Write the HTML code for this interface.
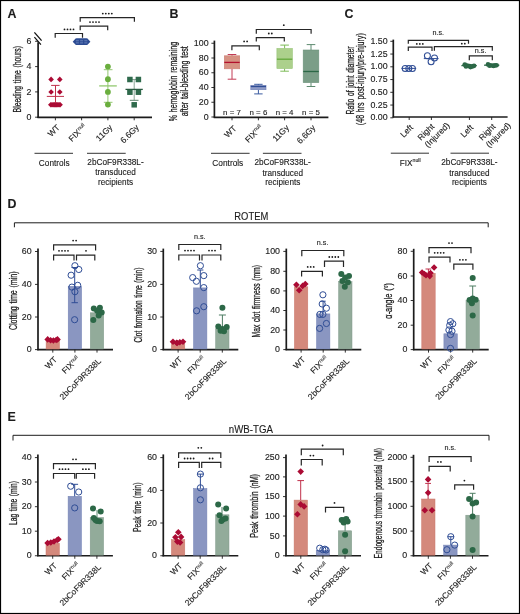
<!DOCTYPE html>
<html><head><meta charset="utf-8"><style>
html,body{margin:0;padding:0;background:#fff;}
svg{display:block;}
text{font-family:"Liberation Sans", sans-serif;fill:#1c1c1c;stroke:#1c1c1c;stroke-width:0.12px;}
svg{will-change:transform;filter:blur(0.3px);}
</style></head><body>
<svg width="520" height="614" viewBox="0 0 520 614">
<rect width="520" height="614" fill="#fff"/>
<rect x="0.50" y="0.50" width="519.00" height="613.00" fill="none" stroke="#000" stroke-width="1.2"/>
<text x="0" y="0" font-size="12.4" font-weight="bold" transform="translate(7.60 17.80)">A</text>
<line x1="38.10" y1="42.30" x2="38.10" y2="117.90" stroke="#1c1c1c" stroke-width="1.7" />
<line x1="34.40" y1="32.30" x2="41.60" y2="40.60" stroke="#111" stroke-width="1.25" />
<line x1="34.40" y1="37.10" x2="40.90" y2="44.70" stroke="#111" stroke-width="1.25" />
<line x1="35.10" y1="117.20" x2="38.10" y2="117.20" stroke="#1c1c1c" stroke-width="0.9" />
<text x="0" y="0" font-size="8.2" text-anchor="end" transform="translate(31.40 119.85) scale(1.0800 1)">0</text>
<line x1="35.10" y1="91.90" x2="38.10" y2="91.90" stroke="#1c1c1c" stroke-width="0.9" />
<text x="0" y="0" font-size="8.2" text-anchor="end" transform="translate(31.40 94.55) scale(1.0800 1)">2</text>
<line x1="35.10" y1="66.60" x2="38.10" y2="66.60" stroke="#1c1c1c" stroke-width="0.9" />
<text x="0" y="0" font-size="8.2" text-anchor="end" transform="translate(31.40 69.25) scale(1.0800 1)">4</text>
<line x1="35.10" y1="41.30" x2="38.10" y2="41.30" stroke="#1c1c1c" stroke-width="0.9" />
<text x="0" y="0" font-size="8.2" text-anchor="end" transform="translate(31.40 43.95) scale(1.0800 1)">6</text>
<text x="0" y="0" font-size="10.6" text-anchor="middle" word-spacing="1.2" style="stroke-width:0.28px" transform="translate(21.20 79.20) rotate(-90) scale(0.6447 1)">Bleeding time (hours)</text>
<line x1="37.40" y1="117.30" x2="152.00" y2="117.30" stroke="#1c1c1c" stroke-width="1.7" />
<line x1="55.40" y1="117.30" x2="55.40" y2="120.30" stroke="#1c1c1c" stroke-width="0.9" />
<line x1="81.60" y1="117.30" x2="81.60" y2="120.30" stroke="#1c1c1c" stroke-width="0.9" />
<line x1="107.90" y1="117.30" x2="107.90" y2="120.30" stroke="#1c1c1c" stroke-width="0.9" />
<line x1="134.20" y1="117.30" x2="134.20" y2="120.30" stroke="#1c1c1c" stroke-width="0.9" />
<path d="M51.10 76.60L53.90 79.40L51.10 82.20L48.30 79.40Z" fill="#ab0b34"/>
<path d="M59.80 76.60L62.60 79.40L59.80 82.20L57.00 79.40Z" fill="#ab0b34"/>
<path d="M51.10 89.20L53.90 92.00L51.10 94.80L48.30 92.00Z" fill="#ab0b34"/>
<path d="M59.80 89.20L62.60 92.00L59.80 94.80L57.00 92.00Z" fill="#ab0b34"/>
<path d="M50.80 102.00L53.60 104.80L50.80 107.60L48.00 104.80Z" fill="#ab0b34"/>
<path d="M52.00 102.00L54.80 104.80L52.00 107.60L49.20 104.80Z" fill="#ab0b34"/>
<path d="M53.20 102.00L56.00 104.80L53.20 107.60L50.40 104.80Z" fill="#ab0b34"/>
<path d="M54.40 102.00L57.20 104.80L54.40 107.60L51.60 104.80Z" fill="#ab0b34"/>
<path d="M55.50 102.00L58.30 104.80L55.50 107.60L52.70 104.80Z" fill="#ab0b34"/>
<path d="M56.60 102.00L59.40 104.80L56.60 107.60L53.80 104.80Z" fill="#ab0b34"/>
<path d="M57.80 102.00L60.60 104.80L57.80 107.60L55.00 104.80Z" fill="#ab0b34"/>
<path d="M59.00 102.00L61.80 104.80L59.00 107.60L56.20 104.80Z" fill="#ab0b34"/>
<path d="M60.10 102.00L62.90 104.80L60.10 107.60L57.30 104.80Z" fill="#ab0b34"/>
<line x1="46.80" y1="96.40" x2="64.00" y2="96.40" stroke="#c0304a" stroke-width="1.0" />
<line x1="51.10" y1="85.40" x2="59.60" y2="85.40" stroke="#c0304a" stroke-width="1.0" />
<line x1="55.50" y1="85.40" x2="55.50" y2="103.00" stroke="#c0304a" stroke-width="1.0" />
<path d="M72.7 41.7L75.6 38.6Q76 38.3 76.6 38.3H86.5Q87.1 38.3 87.5 38.6L90.4 41.7L87.5 44.8Q87.1 45.1 86.5 45.1H76.6Q76 45.1 75.6 44.8Z" fill="#2c4b92"/>
<rect x="75.90" y="39.90" width="3.00" height="3.60" fill="#5470ae" />
<rect x="80.10" y="39.90" width="3.00" height="3.60" fill="#5470ae" />
<rect x="84.30" y="39.90" width="3.00" height="3.60" fill="#5470ae" />
<line x1="74.50" y1="41.70" x2="88.60" y2="41.70" stroke="#2c4b92" stroke-width="0.8" />
<line x1="99.20" y1="85.90" x2="116.80" y2="85.90" stroke="#93c870" stroke-width="1.3" />
<line x1="103.80" y1="69.70" x2="112.50" y2="69.70" stroke="#93c870" stroke-width="1.0" />
<line x1="103.80" y1="102.30" x2="112.50" y2="102.30" stroke="#93c870" stroke-width="1.0" />
<line x1="107.90" y1="69.70" x2="107.90" y2="102.30" stroke="#93c870" stroke-width="1.0" />
<circle cx="107.90" cy="66.60" r="2.90" fill="#6aae3e"/>
<circle cx="107.90" cy="79.25" r="2.90" fill="#6aae3e"/>
<circle cx="107.90" cy="91.90" r="2.90" fill="#6aae3e"/>
<circle cx="107.90" cy="104.55" r="2.90" fill="#6aae3e"/>
<line x1="134.20" y1="79.50" x2="134.20" y2="100.30" stroke="#8aa596" stroke-width="1.0" />
<line x1="129.80" y1="79.50" x2="138.50" y2="79.50" stroke="#8aa596" stroke-width="1.0" />
<line x1="129.80" y1="100.30" x2="138.50" y2="100.30" stroke="#5a806a" stroke-width="1.0" />
<rect x="127.15" y="76.75" width="5.50" height="5.50" fill="#2f6a4c" />
<rect x="135.65" y="76.75" width="5.50" height="5.50" fill="#2f6a4c" />
<rect x="127.15" y="89.45" width="5.50" height="5.50" fill="#2f6a4c" />
<rect x="135.65" y="89.45" width="5.50" height="5.50" fill="#2f6a4c" />
<rect x="131.45" y="102.05" width="5.50" height="5.50" fill="#2f6a4c" />
<line x1="125.50" y1="89.40" x2="142.80" y2="89.40" stroke="#2a5a40" stroke-width="1.3" />
<path d="M55.20 37.70V33.50H82.50V37.70" stroke="#262626" stroke-width="1.2" fill="none" />
<circle cx="64.50" cy="29.40" r="0.90" fill="#1a1a1a"/>
<circle cx="67.50" cy="29.40" r="0.90" fill="#1a1a1a"/>
<circle cx="70.50" cy="29.40" r="0.90" fill="#1a1a1a"/>
<circle cx="73.50" cy="29.40" r="0.90" fill="#1a1a1a"/>
<path d="M80.20 30.20V26.10H107.70V30.20" stroke="#262626" stroke-width="1.2" fill="none" />
<circle cx="90.00" cy="22.10" r="0.90" fill="#1a1a1a"/>
<circle cx="93.00" cy="22.10" r="0.90" fill="#1a1a1a"/>
<circle cx="96.00" cy="22.10" r="0.90" fill="#1a1a1a"/>
<circle cx="99.00" cy="22.10" r="0.90" fill="#1a1a1a"/>
<path d="M80.20 21.70V17.70H134.40V21.70" stroke="#262626" stroke-width="1.2" fill="none" />
<circle cx="102.80" cy="13.60" r="0.90" fill="#1a1a1a"/>
<circle cx="105.80" cy="13.60" r="0.90" fill="#1a1a1a"/>
<circle cx="108.80" cy="13.60" r="0.90" fill="#1a1a1a"/>
<circle cx="111.80" cy="13.60" r="0.90" fill="#1a1a1a"/>
<text x="0" y="0" font-size="8.4" text-anchor="end" transform="translate(60.40 128.00) rotate(-45)">WT</text>
<text x="87.00" y="127.20" font-size="8.4" text-anchor="end" transform="rotate(-45 87.00 127.20)">FIX<tspan font-size="5.21" dy="-3">null</tspan></text>
<text x="0" y="0" font-size="8.4" text-anchor="end" transform="translate(113.00 128.00) rotate(-45)">11Gy</text>
<text x="0" y="0" font-size="8.4" text-anchor="end" transform="translate(139.50 128.00) rotate(-45)">6.6Gy</text>
<line x1="34.50" y1="153.30" x2="73.00" y2="153.30" stroke="#1c1c1c" stroke-width="0.9" />
<text x="0" y="0" font-size="8.2" text-anchor="middle" transform="translate(54.20 165.50) scale(1.0087 1)">Controls</text>
<line x1="87.00" y1="153.30" x2="125.70" y2="153.30" stroke="#1c1c1c" stroke-width="0.9" />
<text x="0" y="0" font-size="8.2" text-anchor="middle" transform="translate(115.50 165.20) scale(1.0077 1)">2bCoF9R338L-</text>
<text x="0" y="0" font-size="8.2" text-anchor="middle" transform="translate(115.50 175.20)">transduced</text>
<text x="0" y="0" font-size="8.2" text-anchor="middle" transform="translate(115.50 185.20)">recipients</text>
<text x="0" y="0" font-size="12.4" font-weight="bold" transform="translate(169.60 17.80)">B</text>
<line x1="214.40" y1="40.60" x2="214.40" y2="117.70" stroke="#1c1c1c" stroke-width="1.7" />
<line x1="211.40" y1="117.00" x2="214.40" y2="117.00" stroke="#1c1c1c" stroke-width="0.9" />
<text x="0" y="0" font-size="8.2" text-anchor="end" transform="translate(208.60 119.65) scale(1.0800 1)">0</text>
<line x1="211.40" y1="102.25" x2="214.40" y2="102.25" stroke="#1c1c1c" stroke-width="0.9" />
<text x="0" y="0" font-size="8.2" text-anchor="end" transform="translate(208.60 104.90) scale(1.0800 1)">20</text>
<line x1="211.40" y1="87.50" x2="214.40" y2="87.50" stroke="#1c1c1c" stroke-width="0.9" />
<text x="0" y="0" font-size="8.2" text-anchor="end" transform="translate(208.60 90.15) scale(1.0800 1)">40</text>
<line x1="211.40" y1="72.75" x2="214.40" y2="72.75" stroke="#1c1c1c" stroke-width="0.9" />
<text x="0" y="0" font-size="8.2" text-anchor="end" transform="translate(208.60 75.40) scale(1.0800 1)">60</text>
<line x1="211.40" y1="58.00" x2="214.40" y2="58.00" stroke="#1c1c1c" stroke-width="0.9" />
<text x="0" y="0" font-size="8.2" text-anchor="end" transform="translate(208.60 60.65) scale(1.0800 1)">80</text>
<line x1="211.40" y1="43.25" x2="214.40" y2="43.25" stroke="#1c1c1c" stroke-width="0.9" />
<text x="0" y="0" font-size="8.2" text-anchor="end" transform="translate(208.60 45.90) scale(1.0800 1)">100</text>
<text x="0" y="0" font-size="10.6" text-anchor="middle" word-spacing="1.2" style="stroke-width:0.28px" transform="translate(177.40 81.50) rotate(-90) scale(0.6677 1)">% hemoglobin remaining</text>
<text x="0" y="0" font-size="10.6" text-anchor="middle" word-spacing="1.2" style="stroke-width:0.28px" transform="translate(187.60 81.20) rotate(-90) scale(0.6747 1)">after tail-bleeding test</text>
<line x1="213.70" y1="117.30" x2="328.40" y2="117.30" stroke="#1c1c1c" stroke-width="1.7" />
<line x1="232.00" y1="117.30" x2="232.00" y2="120.30" stroke="#1c1c1c" stroke-width="0.9" />
<line x1="258.40" y1="117.30" x2="258.40" y2="120.30" stroke="#1c1c1c" stroke-width="0.9" />
<line x1="284.60" y1="117.30" x2="284.60" y2="120.30" stroke="#1c1c1c" stroke-width="0.9" />
<line x1="311.00" y1="117.30" x2="311.00" y2="120.30" stroke="#1c1c1c" stroke-width="0.9" />
<line x1="232.00" y1="54.50" x2="232.00" y2="55.80" stroke="#c23a55" stroke-width="1.0" />
<line x1="232.00" y1="68.80" x2="232.00" y2="79.20" stroke="#c23a55" stroke-width="1.0" />
<line x1="227.70" y1="54.50" x2="236.30" y2="54.50" stroke="#c23a55" stroke-width="1.0" />
<line x1="227.70" y1="79.20" x2="236.30" y2="79.20" stroke="#c23a55" stroke-width="1.0" />
<rect x="224.30" y="55.80" width="15.40" height="13.00" fill="#d69283" stroke="#cc7f72" stroke-width="0.6"/>
<line x1="224.30" y1="62.40" x2="239.70" y2="62.40" stroke="#b3102e" stroke-width="1.3" />
<line x1="258.40" y1="84.30" x2="258.40" y2="85.40" stroke="#3a5ba0" stroke-width="1.0" />
<line x1="258.40" y1="89.70" x2="258.40" y2="93.90" stroke="#3a5ba0" stroke-width="1.0" />
<line x1="254.20" y1="84.30" x2="262.60" y2="84.30" stroke="#3a5ba0" stroke-width="1.0" />
<line x1="254.20" y1="93.90" x2="262.60" y2="93.90" stroke="#3a5ba0" stroke-width="1.0" />
<rect x="250.80" y="85.40" width="15.20" height="4.30" fill="#8f9bc6" stroke="#6d7db5" stroke-width="0.6"/>
<line x1="250.80" y1="86.50" x2="266.00" y2="86.50" stroke="#2f4d95" stroke-width="1.3" />
<line x1="284.60" y1="45.10" x2="284.60" y2="48.50" stroke="#7dbb58" stroke-width="1.0" />
<line x1="284.60" y1="68.50" x2="284.60" y2="71.20" stroke="#7dbb58" stroke-width="1.0" />
<line x1="280.30" y1="45.10" x2="288.90" y2="45.10" stroke="#7dbb58" stroke-width="1.0" />
<line x1="280.30" y1="71.20" x2="288.90" y2="71.20" stroke="#7dbb58" stroke-width="1.0" />
<rect x="276.90" y="48.50" width="15.40" height="20.00" fill="#acd08c" stroke="#95c474" stroke-width="0.6"/>
<line x1="276.90" y1="59.20" x2="292.30" y2="59.20" stroke="#64a83c" stroke-width="1.3" />
<line x1="311.00" y1="44.60" x2="311.00" y2="50.00" stroke="#5d8a70" stroke-width="1.0" />
<line x1="311.00" y1="82.60" x2="311.00" y2="86.50" stroke="#5d8a70" stroke-width="1.0" />
<line x1="306.70" y1="44.60" x2="315.30" y2="44.60" stroke="#5d8a70" stroke-width="1.0" />
<line x1="306.70" y1="86.50" x2="315.30" y2="86.50" stroke="#5d8a70" stroke-width="1.0" />
<rect x="303.20" y="50.00" width="15.60" height="32.60" fill="#7b9e88" stroke="#6a917a" stroke-width="0.6"/>
<line x1="303.20" y1="71.50" x2="318.80" y2="71.50" stroke="#2c6847" stroke-width="1.3" />
<text x="0" y="0" font-size="7.9" text-anchor="middle" transform="translate(232.00 114.90)">n = 7</text>
<text x="0" y="0" font-size="7.9" text-anchor="middle" transform="translate(258.40 114.90)">n = 6</text>
<text x="0" y="0" font-size="7.9" text-anchor="middle" transform="translate(284.60 114.90)">n = 4</text>
<text x="0" y="0" font-size="7.9" text-anchor="middle" transform="translate(311.00 114.90)">n = 5</text>
<path d="M231.90 50.30V45.90H259.30V50.30" stroke="#262626" stroke-width="1.2" fill="none" />
<circle cx="244.10" cy="41.40" r="0.90" fill="#1a1a1a"/>
<circle cx="247.10" cy="41.40" r="0.90" fill="#1a1a1a"/>
<path d="M256.30 41.50V37.70H284.30V41.50" stroke="#262626" stroke-width="1.2" fill="none" />
<circle cx="268.80" cy="33.50" r="0.90" fill="#1a1a1a"/>
<circle cx="271.80" cy="33.50" r="0.90" fill="#1a1a1a"/>
<path d="M256.30 33.70V29.50H311.10V33.70" stroke="#262626" stroke-width="1.2" fill="none" />
<circle cx="283.80" cy="25.20" r="0.90" fill="#1a1a1a"/>
<text x="0" y="0" font-size="8.4" text-anchor="end" transform="translate(237.00 129.00) rotate(-45)">WT</text>
<text x="263.40" y="128.20" font-size="8.4" text-anchor="end" transform="rotate(-45 263.40 128.20)">FIX<tspan font-size="5.21" dy="-3">null</tspan></text>
<text x="0" y="0" font-size="8.4" text-anchor="end" transform="translate(289.60 128.40) rotate(-45)">11Gy</text>
<text x="0" y="0" font-size="8.4" text-anchor="end" transform="translate(316.00 128.40) rotate(-45)">6.6Gy</text>
<line x1="211.00" y1="153.30" x2="249.60" y2="153.30" stroke="#1c1c1c" stroke-width="0.9" />
<text x="0" y="0" font-size="8.2" text-anchor="middle" transform="translate(227.80 165.60) scale(1.0152 1)">Controls</text>
<line x1="262.90" y1="153.30" x2="301.50" y2="153.30" stroke="#1c1c1c" stroke-width="0.9" />
<text x="0" y="0" font-size="8.2" text-anchor="middle" transform="translate(282.60 165.40) scale(1.0077 1)">2bCoF9R338L-</text>
<text x="0" y="0" font-size="8.2" text-anchor="middle" transform="translate(282.80 175.60)">transduced</text>
<text x="0" y="0" font-size="8.2" text-anchor="middle" transform="translate(282.80 185.40)">recipients</text>
<text x="0" y="0" font-size="12.4" font-weight="bold" transform="translate(344.60 17.80)">C</text>
<line x1="393.30" y1="39.60" x2="393.30" y2="117.50" stroke="#1c1c1c" stroke-width="1.7" />
<line x1="390.30" y1="117.80" x2="393.30" y2="117.80" stroke="#1c1c1c" stroke-width="0.9" />
<text x="0" y="0" font-size="8.2" text-anchor="end" transform="translate(387.60 120.45) scale(1.0800 1)">0.00</text>
<line x1="390.30" y1="105.05" x2="393.30" y2="105.05" stroke="#1c1c1c" stroke-width="0.9" />
<text x="0" y="0" font-size="8.2" text-anchor="end" transform="translate(387.60 107.70) scale(1.0800 1)">0.25</text>
<line x1="390.30" y1="92.30" x2="393.30" y2="92.30" stroke="#1c1c1c" stroke-width="0.9" />
<text x="0" y="0" font-size="8.2" text-anchor="end" transform="translate(387.60 94.95) scale(1.0800 1)">0.50</text>
<line x1="390.30" y1="79.55" x2="393.30" y2="79.55" stroke="#1c1c1c" stroke-width="0.9" />
<text x="0" y="0" font-size="8.2" text-anchor="end" transform="translate(387.60 82.20) scale(1.0800 1)">0.75</text>
<line x1="390.30" y1="66.80" x2="393.30" y2="66.80" stroke="#1c1c1c" stroke-width="0.9" />
<text x="0" y="0" font-size="8.2" text-anchor="end" transform="translate(387.60 69.45) scale(1.0800 1)">1.00</text>
<line x1="390.30" y1="54.05" x2="393.30" y2="54.05" stroke="#1c1c1c" stroke-width="0.9" />
<text x="0" y="0" font-size="8.2" text-anchor="end" transform="translate(387.60 56.70) scale(1.0800 1)">1.25</text>
<line x1="390.30" y1="41.30" x2="393.30" y2="41.30" stroke="#1c1c1c" stroke-width="0.9" />
<text x="0" y="0" font-size="8.2" text-anchor="end" transform="translate(387.60 43.95) scale(1.0800 1)">1.50</text>
<text x="0" y="0" font-size="10.6" text-anchor="middle" word-spacing="1.2" style="stroke-width:0.28px" transform="translate(354.00 80.50) rotate(-90) scale(0.6372 1)">Ratio of joint diameter</text>
<text x="0" y="0" font-size="10.6" text-anchor="middle" word-spacing="1.2" style="stroke-width:0.28px" transform="translate(364.40 79.20) rotate(-90) scale(0.6672 1)">(48 hrs post-injury/pre-injury)</text>
<line x1="392.60" y1="117.00" x2="507.60" y2="117.00" stroke="#1c1c1c" stroke-width="1.7" />
<line x1="409.20" y1="117.00" x2="409.20" y2="120.00" stroke="#1c1c1c" stroke-width="0.9" />
<line x1="431.40" y1="117.00" x2="431.40" y2="120.00" stroke="#1c1c1c" stroke-width="0.9" />
<line x1="469.40" y1="117.00" x2="469.40" y2="120.00" stroke="#1c1c1c" stroke-width="0.9" />
<line x1="491.70" y1="117.00" x2="491.70" y2="120.00" stroke="#1c1c1c" stroke-width="0.9" />
<circle cx="405.20" cy="68.40" r="3.00" fill="none" stroke="#2f4d95" stroke-width="1.05"/>
<circle cx="408.80" cy="68.40" r="3.00" fill="none" stroke="#2f4d95" stroke-width="1.05"/>
<circle cx="412.40" cy="68.40" r="3.00" fill="none" stroke="#2f4d95" stroke-width="1.05"/>
<line x1="401.40" y1="68.40" x2="416.20" y2="68.40" stroke="#2f4d95" stroke-width="1.0" />
<circle cx="427.40" cy="55.70" r="3.00" fill="none" stroke="#2f4d95" stroke-width="1.05"/>
<circle cx="434.50" cy="57.90" r="3.00" fill="none" stroke="#2f4d95" stroke-width="1.05"/>
<circle cx="431.10" cy="61.70" r="3.00" fill="none" stroke="#2f4d95" stroke-width="1.05"/>
<line x1="423.80" y1="58.60" x2="438.60" y2="58.60" stroke="#2f4d95" stroke-width="1.0" />
<circle cx="464.80" cy="64.60" r="2.40" fill="#2c6847"/>
<circle cx="467.20" cy="65.60" r="2.40" fill="#2c6847"/>
<circle cx="469.60" cy="66.20" r="2.40" fill="#2c6847"/>
<circle cx="472.20" cy="66.40" r="2.40" fill="#2c6847"/>
<circle cx="474.00" cy="65.80" r="2.40" fill="#2c6847"/>
<circle cx="466.00" cy="66.40" r="2.40" fill="#2c6847"/>
<circle cx="470.50" cy="67.00" r="2.40" fill="#2c6847"/>
<circle cx="488.00" cy="64.40" r="2.30" fill="#2c6847"/>
<circle cx="490.40" cy="65.20" r="2.30" fill="#2c6847"/>
<circle cx="492.80" cy="65.60" r="2.30" fill="#2c6847"/>
<circle cx="495.00" cy="65.40" r="2.30" fill="#2c6847"/>
<circle cx="496.60" cy="65.20" r="2.30" fill="#2c6847"/>
<circle cx="489.50" cy="65.80" r="2.30" fill="#2c6847"/>
<circle cx="493.50" cy="66.00" r="2.30" fill="#2c6847"/>
<line x1="461.40" y1="65.60" x2="476.80" y2="65.60" stroke="#2c6847" stroke-width="1.3" />
<line x1="484.10" y1="65.20" x2="499.30" y2="65.20" stroke="#2c6847" stroke-width="1.3" />
<path d="M408.30 51.00V47.10H432.00V51.00" stroke="#262626" stroke-width="1.2" fill="none" />
<circle cx="416.80" cy="43.90" r="0.90" fill="#1a1a1a"/>
<circle cx="419.80" cy="43.90" r="0.90" fill="#1a1a1a"/>
<circle cx="422.80" cy="43.90" r="0.90" fill="#1a1a1a"/>
<path d="M408.30 43.70V40.30H468.50V43.70" stroke="#262626" stroke-width="1.2" fill="none" />
<text x="0" y="0" font-size="7.2" text-anchor="middle" transform="translate(438.30 34.60)">n.s.</text>
<path d="M434.40 50.70V46.70H492.30V50.70" stroke="#262626" stroke-width="1.2" fill="none" />
<circle cx="461.80" cy="43.70" r="0.90" fill="#1a1a1a"/>
<circle cx="464.80" cy="43.70" r="0.90" fill="#1a1a1a"/>
<path d="M469.30 60.20V55.90H492.30V60.20" stroke="#262626" stroke-width="1.2" fill="none" />
<text x="0" y="0" font-size="7.2" text-anchor="middle" transform="translate(480.60 53.30)">n.s.</text>
<text x="0" y="0" font-size="8.4" text-anchor="end" transform="translate(413.60 128.00) rotate(-45)">Left</text>
<text font-size="8.4" transform="translate(421.00 140.90) rotate(-45)"><tspan x="0" y="0">Right</tspan><tspan x="0" y="10.0">(Injured)</tspan></text>
<text x="0" y="0" font-size="8.4" text-anchor="end" transform="translate(473.80 128.00) rotate(-45)">Left</text>
<text font-size="8.4" transform="translate(482.20 140.90) rotate(-45)"><tspan x="0" y="0">Right</tspan><tspan x="0" y="10.0">(Injured)</tspan></text>
<line x1="390.80" y1="153.20" x2="429.00" y2="153.20" stroke="#1c1c1c" stroke-width="0.9" />
<text x="410.2" y="165.6" font-size="8.2" text-anchor="middle">FIX<tspan font-size="5.2" dy="-3.2">null</tspan></text>
<line x1="450.50" y1="153.20" x2="489.00" y2="153.20" stroke="#1c1c1c" stroke-width="0.9" />
<text x="0" y="0" font-size="8.2" text-anchor="middle" transform="translate(469.40 165.40) scale(1.0077 1)">2bCoF9R338L-</text>
<text x="0" y="0" font-size="8.2" text-anchor="middle" transform="translate(469.40 175.60)">transduced</text>
<text x="0" y="0" font-size="8.2" text-anchor="middle" transform="translate(469.40 185.40)">recipients</text>
<text x="0" y="0" font-size="12.4" font-weight="bold" transform="translate(7.60 208.20)">D</text>
<path d="M14.4 227.3V222.8H488.2V227.3" stroke="#1c1c1c" stroke-width="1.0" fill="none" />
<text x="0" y="0" font-size="10.0" text-anchor="middle" transform="translate(251.30 219.50) scale(0.9416 1)">ROTEM</text>
<text x="0" y="0" font-size="12.4" font-weight="bold" transform="translate(7.60 420.80)">E</text>
<path d="M13.0 440.5V435.3H489.0V440.5" stroke="#1c1c1c" stroke-width="1.0" fill="none" />
<text x="0" y="0" font-size="10.0" text-anchor="middle" transform="translate(250.90 432.50) scale(0.9702 1)">nWB-TGA</text>
<line x1="38.00" y1="248.60" x2="38.00" y2="350.20" stroke="#1c1c1c" stroke-width="1.7" />
<line x1="35.00" y1="349.60" x2="38.00" y2="349.60" stroke="#1c1c1c" stroke-width="0.9" />
<text x="0" y="0" font-size="8.2" text-anchor="end" transform="translate(31.70 352.25) scale(1.0800 1)">0</text>
<line x1="35.00" y1="317.00" x2="38.00" y2="317.00" stroke="#1c1c1c" stroke-width="0.9" />
<text x="0" y="0" font-size="8.2" text-anchor="end" transform="translate(31.70 319.65) scale(1.0800 1)">20</text>
<line x1="35.00" y1="284.40" x2="38.00" y2="284.40" stroke="#1c1c1c" stroke-width="0.9" />
<text x="0" y="0" font-size="8.2" text-anchor="end" transform="translate(31.70 287.05) scale(1.0800 1)">40</text>
<line x1="35.00" y1="251.50" x2="38.00" y2="251.50" stroke="#1c1c1c" stroke-width="0.9" />
<text x="0" y="0" font-size="8.2" text-anchor="end" transform="translate(31.70 254.15) scale(1.0800 1)">60</text>
<text x="0" y="0" font-size="10.6" text-anchor="middle" word-spacing="1.2" style="stroke-width:0.28px" transform="translate(16.50 300.80) rotate(-90) scale(0.6629 1)">Clotting time (min)</text>
<line x1="37.20" y1="349.60" x2="113.00" y2="349.60" stroke="#1c1c1c" stroke-width="1.7" />
<rect x="46.10" y="339.90" width="13.40" height="9.10" fill="#d4897c" stroke="#c97668" stroke-width="0.5"/>
<line x1="52.80" y1="349.60" x2="52.80" y2="352.60" stroke="#1c1c1c" stroke-width="0.9" />
<rect x="68.20" y="286.30" width="13.40" height="62.70" fill="#8a96c1" stroke="#7382b5" stroke-width="0.5"/>
<line x1="74.90" y1="349.60" x2="74.90" y2="352.60" stroke="#1c1c1c" stroke-width="0.9" />
<rect x="90.30" y="312.80" width="13.40" height="36.20" fill="#92ab9a" stroke="#80998a" stroke-width="0.5"/>
<line x1="97.00" y1="349.60" x2="97.00" y2="352.60" stroke="#1c1c1c" stroke-width="0.9" />
<text x="0" y="0" font-size="8.4" text-anchor="end" transform="translate(57.60 360.20) rotate(-45)">WT</text>
<text x="80.30" y="359.40" font-size="8.4" text-anchor="end" transform="rotate(-45 80.30 359.40)">FIX<tspan font-size="5.21" dy="-3">null</tspan></text>
<text x="0" y="0" font-size="8.4" text-anchor="end" transform="translate(101.60 361.60) rotate(-45)">2bCoF9R338L</text>
<path d="M47.70 336.10L51.00 339.40L47.70 342.70L44.40 339.40Z" fill="#ab0b34"/>
<path d="M50.60 336.90L53.90 340.20L50.60 343.50L47.30 340.20Z" fill="#ab0b34"/>
<path d="M53.40 337.20L56.70 340.50L53.40 343.80L50.10 340.50Z" fill="#ab0b34"/>
<path d="M56.20 336.70L59.50 340.00L56.20 343.30L52.90 340.00Z" fill="#ab0b34"/>
<path d="M57.50 336.10L60.80 339.40L57.50 342.70L54.20 339.40Z" fill="#ab0b34"/>
<line x1="74.70" y1="267.50" x2="74.70" y2="302.70" stroke="#2f4d95" stroke-width="1.0" />
<line x1="71.50" y1="267.50" x2="77.90" y2="267.50" stroke="#2f4d95" stroke-width="1.0" />
<line x1="71.50" y1="302.70" x2="77.90" y2="302.70" stroke="#2f4d95" stroke-width="1.0" />
<circle cx="74.90" cy="265.70" r="3.10" fill="none" stroke="#2f4d95" stroke-width="1.0"/>
<circle cx="78.80" cy="269.50" r="3.10" fill="none" stroke="#2f4d95" stroke-width="1.0"/>
<circle cx="71.10" cy="275.20" r="3.10" fill="none" stroke="#2f4d95" stroke-width="1.0"/>
<circle cx="77.70" cy="285.30" r="3.10" fill="none" stroke="#2f4d95" stroke-width="1.0"/>
<circle cx="71.90" cy="287.10" r="3.10" fill="none" stroke="#2f4d95" stroke-width="1.0"/>
<circle cx="74.90" cy="291.70" r="3.10" fill="none" stroke="#2f4d95" stroke-width="1.0"/>
<circle cx="74.60" cy="319.70" r="3.10" fill="none" stroke="#2f4d95" stroke-width="1.0"/>
<line x1="97.00" y1="309.00" x2="97.00" y2="313.00" stroke="#5d8a70" stroke-width="1.0" />
<circle cx="93.80" cy="308.50" r="3.00" fill="#2c6847"/>
<circle cx="99.90" cy="307.80" r="3.00" fill="#2c6847"/>
<circle cx="101.70" cy="312.40" r="3.00" fill="#2c6847"/>
<circle cx="97.10" cy="310.80" r="3.00" fill="#2c6847"/>
<circle cx="98.70" cy="315.40" r="3.00" fill="#2c6847"/>
<circle cx="93.30" cy="320.00" r="3.00" fill="#2c6847"/>
<path d="M53.60 250.40V244.80H95.60V250.40" stroke="#262626" stroke-width="1.2" fill="none" />
<circle cx="73.10" cy="240.60" r="0.90" fill="#1a1a1a"/>
<circle cx="76.10" cy="240.60" r="0.90" fill="#1a1a1a"/>
<path d="M53.60 260.40V255.10H74.00V260.40" stroke="#262626" stroke-width="1.2" fill="none" />
<circle cx="59.00" cy="250.80" r="0.90" fill="#1a1a1a"/>
<circle cx="62.00" cy="250.80" r="0.90" fill="#1a1a1a"/>
<circle cx="65.00" cy="250.80" r="0.90" fill="#1a1a1a"/>
<circle cx="68.00" cy="250.80" r="0.90" fill="#1a1a1a"/>
<path d="M76.50 260.40V255.10H94.80V260.40" stroke="#262626" stroke-width="1.2" fill="none" />
<circle cx="86.00" cy="250.80" r="0.90" fill="#1a1a1a"/>
<line x1="163.30" y1="248.60" x2="163.30" y2="350.20" stroke="#1c1c1c" stroke-width="1.7" />
<line x1="160.30" y1="349.60" x2="163.30" y2="349.60" stroke="#1c1c1c" stroke-width="0.9" />
<text x="0" y="0" font-size="8.2" text-anchor="end" transform="translate(157.00 352.25) scale(1.0800 1)">0</text>
<line x1="160.30" y1="317.00" x2="163.30" y2="317.00" stroke="#1c1c1c" stroke-width="0.9" />
<text x="0" y="0" font-size="8.2" text-anchor="end" transform="translate(157.00 319.65) scale(1.0800 1)">10</text>
<line x1="160.30" y1="284.40" x2="163.30" y2="284.40" stroke="#1c1c1c" stroke-width="0.9" />
<text x="0" y="0" font-size="8.2" text-anchor="end" transform="translate(157.00 287.05) scale(1.0800 1)">20</text>
<line x1="160.30" y1="251.40" x2="163.30" y2="251.40" stroke="#1c1c1c" stroke-width="0.9" />
<text x="0" y="0" font-size="8.2" text-anchor="end" transform="translate(157.00 254.05) scale(1.0800 1)">30</text>
<text x="0" y="0" font-size="10.6" text-anchor="middle" word-spacing="1.2" style="stroke-width:0.28px" transform="translate(141.80 305.00) rotate(-90) scale(0.6269 1)">Clot formation time (min)</text>
<line x1="162.50" y1="349.60" x2="238.30" y2="349.60" stroke="#1c1c1c" stroke-width="1.7" />
<rect x="171.40" y="341.90" width="13.40" height="7.10" fill="#d4897c" stroke="#c97668" stroke-width="0.5"/>
<line x1="178.10" y1="349.60" x2="178.10" y2="352.60" stroke="#1c1c1c" stroke-width="0.9" />
<rect x="193.50" y="287.90" width="13.40" height="61.10" fill="#8a96c1" stroke="#7382b5" stroke-width="0.5"/>
<line x1="200.20" y1="349.60" x2="200.20" y2="352.60" stroke="#1c1c1c" stroke-width="0.9" />
<rect x="215.60" y="328.80" width="13.40" height="20.20" fill="#92ab9a" stroke="#80998a" stroke-width="0.5"/>
<line x1="222.30" y1="349.60" x2="222.30" y2="352.60" stroke="#1c1c1c" stroke-width="0.9" />
<text x="0" y="0" font-size="8.4" text-anchor="end" transform="translate(182.90 360.20) rotate(-45)">WT</text>
<text x="205.60" y="359.40" font-size="8.4" text-anchor="end" transform="rotate(-45 205.60 359.40)">FIX<tspan font-size="5.21" dy="-3">null</tspan></text>
<text x="0" y="0" font-size="8.4" text-anchor="end" transform="translate(226.90 361.60) rotate(-45)">2bCoF9R338L</text>
<path d="M173.00 338.50L176.30 341.80L173.00 345.10L169.70 341.80Z" fill="#ab0b34"/>
<path d="M176.60 339.40L179.90 342.70L176.60 346.00L173.30 342.70Z" fill="#ab0b34"/>
<path d="M179.80 338.90L183.10 342.20L179.80 345.50L176.50 342.20Z" fill="#ab0b34"/>
<path d="M183.00 338.50L186.30 341.80L183.00 345.10L179.70 341.80Z" fill="#ab0b34"/>
<path d="M177.20 339.70L180.50 343.00L177.20 346.30L173.90 343.00Z" fill="#ab0b34"/>
<line x1="200.30" y1="270.00" x2="200.30" y2="287.90" stroke="#2f4d95" stroke-width="1.0" />
<line x1="197.20" y1="270.00" x2="203.40" y2="270.00" stroke="#2f4d95" stroke-width="1.0" />
<circle cx="200.40" cy="265.70" r="3.10" fill="none" stroke="#2f4d95" stroke-width="1.0"/>
<circle cx="203.80" cy="275.60" r="3.10" fill="none" stroke="#2f4d95" stroke-width="1.0"/>
<circle cx="192.70" cy="277.60" r="3.10" fill="none" stroke="#2f4d95" stroke-width="1.0"/>
<circle cx="196.40" cy="281.30" r="3.10" fill="none" stroke="#2f4d95" stroke-width="1.0"/>
<circle cx="203.80" cy="287.60" r="3.10" fill="none" stroke="#2f4d95" stroke-width="1.0"/>
<circle cx="203.80" cy="306.70" r="3.10" fill="none" stroke="#2f4d95" stroke-width="1.0"/>
<circle cx="196.60" cy="310.80" r="3.10" fill="none" stroke="#2f4d95" stroke-width="1.0"/>
<line x1="222.40" y1="315.00" x2="222.40" y2="328.80" stroke="#4d7c62" stroke-width="1.0" />
<line x1="218.90" y1="315.00" x2="225.90" y2="315.00" stroke="#4d7c62" stroke-width="1.0" />
<circle cx="222.40" cy="307.80" r="3.00" fill="#2c6847"/>
<circle cx="218.30" cy="326.60" r="3.00" fill="#2c6847"/>
<circle cx="226.70" cy="326.90" r="3.00" fill="#2c6847"/>
<circle cx="220.60" cy="330.70" r="3.00" fill="#2c6847"/>
<circle cx="224.00" cy="331.20" r="3.00" fill="#2c6847"/>
<circle cx="222.40" cy="329.00" r="3.00" fill="#2c6847"/>
<path d="M178.80 250.00V244.50H220.80V250.00" stroke="#262626" stroke-width="1.2" fill="none" />
<text x="0" y="0" font-size="7.2" text-anchor="middle" transform="translate(199.80 238.80)">n.s.</text>
<path d="M178.80 260.50V255.00H199.50V260.50" stroke="#262626" stroke-width="1.2" fill="none" />
<circle cx="185.00" cy="250.60" r="0.90" fill="#1a1a1a"/>
<circle cx="188.00" cy="250.60" r="0.90" fill="#1a1a1a"/>
<circle cx="191.00" cy="250.60" r="0.90" fill="#1a1a1a"/>
<circle cx="194.00" cy="250.60" r="0.90" fill="#1a1a1a"/>
<path d="M202.00 260.50V255.00H220.80V260.50" stroke="#262626" stroke-width="1.2" fill="none" />
<circle cx="209.00" cy="250.60" r="0.90" fill="#1a1a1a"/>
<circle cx="212.00" cy="250.60" r="0.90" fill="#1a1a1a"/>
<circle cx="215.00" cy="250.60" r="0.90" fill="#1a1a1a"/>
<line x1="286.30" y1="248.60" x2="286.30" y2="350.20" stroke="#1c1c1c" stroke-width="1.7" />
<line x1="283.30" y1="349.60" x2="286.30" y2="349.60" stroke="#1c1c1c" stroke-width="0.9" />
<text x="0" y="0" font-size="8.2" text-anchor="end" transform="translate(280.00 352.25) scale(1.0800 1)">0</text>
<line x1="283.30" y1="330.00" x2="286.30" y2="330.00" stroke="#1c1c1c" stroke-width="0.9" />
<text x="0" y="0" font-size="8.2" text-anchor="end" transform="translate(280.00 332.65) scale(1.0800 1)">20</text>
<line x1="283.30" y1="310.50" x2="286.30" y2="310.50" stroke="#1c1c1c" stroke-width="0.9" />
<text x="0" y="0" font-size="8.2" text-anchor="end" transform="translate(280.00 313.15) scale(1.0800 1)">40</text>
<line x1="283.30" y1="290.90" x2="286.30" y2="290.90" stroke="#1c1c1c" stroke-width="0.9" />
<text x="0" y="0" font-size="8.2" text-anchor="end" transform="translate(280.00 293.55) scale(1.0800 1)">60</text>
<line x1="283.30" y1="271.30" x2="286.30" y2="271.30" stroke="#1c1c1c" stroke-width="0.9" />
<text x="0" y="0" font-size="8.2" text-anchor="end" transform="translate(280.00 273.95) scale(1.0800 1)">80</text>
<line x1="283.30" y1="251.40" x2="286.30" y2="251.40" stroke="#1c1c1c" stroke-width="0.9" />
<text x="0" y="0" font-size="8.2" text-anchor="end" transform="translate(280.00 254.05) scale(1.0800 1)">100</text>
<text x="0" y="0" font-size="10.6" text-anchor="middle" word-spacing="1.2" style="stroke-width:0.28px" transform="translate(259.60 301.30) rotate(-90) scale(0.6375 1)">Max clot firmness (mm)</text>
<line x1="285.50" y1="349.60" x2="361.30" y2="349.60" stroke="#1c1c1c" stroke-width="1.7" />
<rect x="294.40" y="286.80" width="13.40" height="62.20" fill="#d4897c" stroke="#c97668" stroke-width="0.5"/>
<line x1="301.10" y1="349.60" x2="301.10" y2="352.60" stroke="#1c1c1c" stroke-width="0.9" />
<rect x="316.50" y="313.90" width="13.40" height="35.10" fill="#8a96c1" stroke="#7382b5" stroke-width="0.5"/>
<line x1="323.20" y1="349.60" x2="323.20" y2="352.60" stroke="#1c1c1c" stroke-width="0.9" />
<rect x="338.60" y="281.70" width="13.40" height="67.30" fill="#92ab9a" stroke="#80998a" stroke-width="0.5"/>
<line x1="345.30" y1="349.60" x2="345.30" y2="352.60" stroke="#1c1c1c" stroke-width="0.9" />
<text x="0" y="0" font-size="8.4" text-anchor="end" transform="translate(305.90 360.20) rotate(-45)">WT</text>
<text x="328.60" y="359.40" font-size="8.4" text-anchor="end" transform="rotate(-45 328.60 359.40)">FIX<tspan font-size="5.21" dy="-3">null</tspan></text>
<text x="0" y="0" font-size="8.4" text-anchor="end" transform="translate(349.90 361.60) rotate(-45)">2bCoF9R338L</text>
<path d="M296.40 281.50L299.70 284.80L296.40 288.10L293.10 284.80Z" fill="#ab0b34"/>
<path d="M299.20 286.90L302.50 290.20L299.20 293.50L295.90 290.20Z" fill="#ab0b34"/>
<path d="M302.60 282.60L305.90 285.90L302.60 289.20L299.30 285.90Z" fill="#ab0b34"/>
<path d="M305.30 280.70L308.60 284.00L305.30 287.30L302.00 284.00Z" fill="#ab0b34"/>
<line x1="323.10" y1="301.20" x2="323.10" y2="313.90" stroke="#2f4d95" stroke-width="1.0" />
<line x1="320.50" y1="301.20" x2="325.70" y2="301.20" stroke="#2f4d95" stroke-width="1.0" />
<circle cx="322.90" cy="294.80" r="3.10" fill="none" stroke="#2f4d95" stroke-width="1.0"/>
<circle cx="322.20" cy="304.00" r="3.10" fill="none" stroke="#2f4d95" stroke-width="1.0"/>
<circle cx="326.40" cy="308.20" r="3.10" fill="none" stroke="#2f4d95" stroke-width="1.0"/>
<circle cx="319.90" cy="314.40" r="3.10" fill="none" stroke="#2f4d95" stroke-width="1.0"/>
<circle cx="322.90" cy="314.40" r="3.10" fill="none" stroke="#2f4d95" stroke-width="1.0"/>
<circle cx="326.40" cy="323.50" r="3.10" fill="none" stroke="#2f4d95" stroke-width="1.0"/>
<circle cx="319.60" cy="328.40" r="3.10" fill="none" stroke="#2f4d95" stroke-width="1.0"/>
<circle cx="341.30" cy="274.10" r="3.00" fill="#2c6847"/>
<circle cx="349.00" cy="276.10" r="3.00" fill="#2c6847"/>
<circle cx="342.40" cy="281.00" r="3.00" fill="#2c6847"/>
<circle cx="347.90" cy="282.20" r="3.00" fill="#2c6847"/>
<circle cx="344.80" cy="286.80" r="3.00" fill="#2c6847"/>
<circle cx="345.20" cy="277.50" r="3.00" fill="#2c6847"/>
<path d="M301.80 256.30V250.50H343.80V256.30" stroke="#262626" stroke-width="1.2" fill="none" />
<text x="0" y="0" font-size="7.2" text-anchor="middle" transform="translate(322.60 245.00)">n.s.</text>
<path d="M301.60 276.60V271.30H322.40V276.60" stroke="#262626" stroke-width="1.2" fill="none" />
<circle cx="307.70" cy="266.90" r="0.90" fill="#1a1a1a"/>
<circle cx="310.70" cy="266.90" r="0.90" fill="#1a1a1a"/>
<circle cx="313.70" cy="266.90" r="0.90" fill="#1a1a1a"/>
<path d="M324.50 266.90V261.10H343.50V266.90" stroke="#262626" stroke-width="1.2" fill="none" />
<circle cx="329.30" cy="257.00" r="0.90" fill="#1a1a1a"/>
<circle cx="332.30" cy="257.00" r="0.90" fill="#1a1a1a"/>
<circle cx="335.30" cy="257.00" r="0.90" fill="#1a1a1a"/>
<circle cx="338.30" cy="257.00" r="0.90" fill="#1a1a1a"/>
<line x1="413.70" y1="248.80" x2="413.70" y2="350.20" stroke="#1c1c1c" stroke-width="1.7" />
<line x1="410.70" y1="349.60" x2="413.70" y2="349.60" stroke="#1c1c1c" stroke-width="0.9" />
<text x="0" y="0" font-size="8.2" text-anchor="end" transform="translate(407.40 352.25) scale(1.0800 1)">0</text>
<line x1="410.70" y1="325.20" x2="413.70" y2="325.20" stroke="#1c1c1c" stroke-width="0.9" />
<text x="0" y="0" font-size="8.2" text-anchor="end" transform="translate(407.40 327.85) scale(1.0800 1)">20</text>
<line x1="410.70" y1="300.50" x2="413.70" y2="300.50" stroke="#1c1c1c" stroke-width="0.9" />
<text x="0" y="0" font-size="8.2" text-anchor="end" transform="translate(407.40 303.15) scale(1.0800 1)">40</text>
<line x1="410.70" y1="276.00" x2="413.70" y2="276.00" stroke="#1c1c1c" stroke-width="0.9" />
<text x="0" y="0" font-size="8.2" text-anchor="end" transform="translate(407.40 278.65) scale(1.0800 1)">60</text>
<line x1="410.70" y1="251.30" x2="413.70" y2="251.30" stroke="#1c1c1c" stroke-width="0.9" />
<text x="0" y="0" font-size="8.2" text-anchor="end" transform="translate(407.40 253.95) scale(1.0800 1)">80</text>
<text x="0" y="0" font-size="10.6" text-anchor="middle" word-spacing="1.2" style="stroke-width:0.28px" transform="translate(391.60 300.80) rotate(-90) scale(0.7014 1)">&#945;-angle (&#176;)</text>
<line x1="412.90" y1="349.60" x2="488.70" y2="349.60" stroke="#1c1c1c" stroke-width="1.7" />
<rect x="421.80" y="273.30" width="13.40" height="75.70" fill="#d4897c" stroke="#c97668" stroke-width="0.5"/>
<line x1="428.50" y1="349.60" x2="428.50" y2="352.60" stroke="#1c1c1c" stroke-width="0.9" />
<rect x="443.90" y="333.80" width="13.40" height="15.20" fill="#8a96c1" stroke="#7382b5" stroke-width="0.5"/>
<line x1="450.60" y1="349.60" x2="450.60" y2="352.60" stroke="#1c1c1c" stroke-width="0.9" />
<rect x="466.00" y="300.10" width="13.40" height="48.90" fill="#92ab9a" stroke="#80998a" stroke-width="0.5"/>
<line x1="472.70" y1="349.60" x2="472.70" y2="352.60" stroke="#1c1c1c" stroke-width="0.9" />
<text x="0" y="0" font-size="8.4" text-anchor="end" transform="translate(433.30 360.20) rotate(-45)">WT</text>
<text x="456.00" y="359.40" font-size="8.4" text-anchor="end" transform="rotate(-45 456.00 359.40)">FIX<tspan font-size="5.21" dy="-3">null</tspan></text>
<text x="0" y="0" font-size="8.4" text-anchor="end" transform="translate(477.30 361.60) rotate(-45)">2bCoF9R338L</text>
<line x1="428.40" y1="269.00" x2="428.40" y2="273.30" stroke="#c0304a" stroke-width="1.0" />
<line x1="425.50" y1="269.00" x2="431.30" y2="269.00" stroke="#c0304a" stroke-width="1.0" />
<path d="M422.10 269.20L425.40 272.50L422.10 275.80L418.80 272.50Z" fill="#ab0b34"/>
<path d="M426.00 271.90L429.30 275.20L426.00 278.50L422.70 275.20Z" fill="#ab0b34"/>
<path d="M429.80 272.80L433.10 276.10L429.80 279.40L426.50 276.10Z" fill="#ab0b34"/>
<path d="M434.10 264.20L437.40 267.50L434.10 270.80L430.80 267.50Z" fill="#ab0b34"/>
<path d="M430.50 269.70L433.80 273.00L430.50 276.30L427.20 273.00Z" fill="#ab0b34"/>
<path d="M424.40 270.70L427.70 274.00L424.40 277.30L421.10 274.00Z" fill="#ab0b34"/>
<circle cx="450.50" cy="321.60" r="3.10" fill="none" stroke="#2f4d95" stroke-width="1.0"/>
<circle cx="452.80" cy="323.80" r="3.10" fill="none" stroke="#2f4d95" stroke-width="1.0"/>
<circle cx="449.70" cy="325.40" r="3.10" fill="none" stroke="#2f4d95" stroke-width="1.0"/>
<circle cx="448.90" cy="330.00" r="3.10" fill="none" stroke="#2f4d95" stroke-width="1.0"/>
<circle cx="452.00" cy="331.20" r="3.10" fill="none" stroke="#2f4d95" stroke-width="1.0"/>
<circle cx="450.50" cy="334.60" r="3.10" fill="none" stroke="#2f4d95" stroke-width="1.0"/>
<circle cx="450.50" cy="348.40" r="3.10" fill="none" stroke="#2f4d95" stroke-width="1.0"/>
<line x1="472.70" y1="286.00" x2="472.70" y2="300.10" stroke="#4d7c62" stroke-width="1.0" />
<line x1="469.30" y1="286.00" x2="476.10" y2="286.00" stroke="#4d7c62" stroke-width="1.0" />
<circle cx="472.70" cy="277.90" r="3.00" fill="#2c6847"/>
<circle cx="469.60" cy="300.10" r="3.00" fill="#2c6847"/>
<circle cx="475.70" cy="299.70" r="3.00" fill="#2c6847"/>
<circle cx="471.90" cy="303.20" r="3.00" fill="#2c6847"/>
<circle cx="472.70" cy="315.40" r="3.00" fill="#2c6847"/>
<circle cx="472.70" cy="298.50" r="3.00" fill="#2c6847"/>
<path d="M429.00 253.30V247.70H471.00V253.30" stroke="#262626" stroke-width="1.2" fill="none" />
<circle cx="449.00" cy="243.10" r="0.90" fill="#1a1a1a"/>
<circle cx="452.00" cy="243.10" r="0.90" fill="#1a1a1a"/>
<path d="M429.00 262.50V257.10H450.00V262.50" stroke="#262626" stroke-width="1.2" fill="none" />
<circle cx="434.70" cy="252.80" r="0.90" fill="#1a1a1a"/>
<circle cx="437.70" cy="252.80" r="0.90" fill="#1a1a1a"/>
<circle cx="440.70" cy="252.80" r="0.90" fill="#1a1a1a"/>
<circle cx="443.70" cy="252.80" r="0.90" fill="#1a1a1a"/>
<path d="M453.80 269.70V264.20H472.90V269.70" stroke="#262626" stroke-width="1.2" fill="none" />
<circle cx="459.90" cy="259.80" r="0.90" fill="#1a1a1a"/>
<circle cx="462.90" cy="259.80" r="0.90" fill="#1a1a1a"/>
<circle cx="465.90" cy="259.80" r="0.90" fill="#1a1a1a"/>
<line x1="37.90" y1="454.40" x2="37.90" y2="556.35" stroke="#1c1c1c" stroke-width="1.7" />
<line x1="34.90" y1="555.75" x2="37.90" y2="555.75" stroke="#1c1c1c" stroke-width="0.9" />
<text x="0" y="0" font-size="8.2" text-anchor="end" transform="translate(31.60 558.40) scale(1.0800 1)">0</text>
<line x1="34.90" y1="531.20" x2="37.90" y2="531.20" stroke="#1c1c1c" stroke-width="0.9" />
<text x="0" y="0" font-size="8.2" text-anchor="end" transform="translate(31.60 533.85) scale(1.0800 1)">10</text>
<line x1="34.90" y1="506.70" x2="37.90" y2="506.70" stroke="#1c1c1c" stroke-width="0.9" />
<text x="0" y="0" font-size="8.2" text-anchor="end" transform="translate(31.60 509.35) scale(1.0800 1)">20</text>
<line x1="34.90" y1="482.00" x2="37.90" y2="482.00" stroke="#1c1c1c" stroke-width="0.9" />
<text x="0" y="0" font-size="8.2" text-anchor="end" transform="translate(31.60 484.65) scale(1.0800 1)">30</text>
<line x1="34.90" y1="457.60" x2="37.90" y2="457.60" stroke="#1c1c1c" stroke-width="0.9" />
<text x="0" y="0" font-size="8.2" text-anchor="end" transform="translate(31.60 460.25) scale(1.0800 1)">40</text>
<text x="0" y="0" font-size="10.6" text-anchor="middle" word-spacing="1.2" style="stroke-width:0.28px" transform="translate(16.50 503.00) rotate(-90) scale(0.6273 1)">Lag time (min)</text>
<line x1="37.10" y1="555.75" x2="112.90" y2="555.75" stroke="#1c1c1c" stroke-width="1.7" />
<rect x="46.00" y="543.30" width="13.40" height="11.85" fill="#d4897c" stroke="#c97668" stroke-width="0.5"/>
<line x1="52.70" y1="555.75" x2="52.70" y2="558.75" stroke="#1c1c1c" stroke-width="0.9" />
<rect x="68.10" y="496.30" width="13.40" height="58.85" fill="#8a96c1" stroke="#7382b5" stroke-width="0.5"/>
<line x1="74.80" y1="555.75" x2="74.80" y2="558.75" stroke="#1c1c1c" stroke-width="0.9" />
<rect x="90.20" y="517.50" width="13.40" height="37.65" fill="#92ab9a" stroke="#80998a" stroke-width="0.5"/>
<line x1="96.90" y1="555.75" x2="96.90" y2="558.75" stroke="#1c1c1c" stroke-width="0.9" />
<text x="0" y="0" font-size="8.4" text-anchor="end" transform="translate(57.50 566.35) rotate(-45)">WT</text>
<text x="80.20" y="565.55" font-size="8.4" text-anchor="end" transform="rotate(-45 80.20 565.55)">FIX<tspan font-size="5.21" dy="-3">null</tspan></text>
<text x="0" y="0" font-size="8.4" text-anchor="end" transform="translate(101.50 567.75) rotate(-45)">2bCoF9R338L</text>
<path d="M47.60 539.70L50.90 543.00L47.60 546.30L44.30 543.00Z" fill="#ab0b34"/>
<path d="M50.80 539.20L54.10 542.50L50.80 545.80L47.50 542.50Z" fill="#ab0b34"/>
<path d="M54.00 538.20L57.30 541.50L54.00 544.80L50.70 541.50Z" fill="#ab0b34"/>
<path d="M57.20 536.70L60.50 540.00L57.20 543.30L53.90 540.00Z" fill="#ab0b34"/>
<path d="M58.40 535.90L61.70 539.20L58.40 542.50L55.10 539.20Z" fill="#ab0b34"/>
<line x1="74.70" y1="484.30" x2="74.70" y2="496.30" stroke="#2f4d95" stroke-width="1.0" />
<line x1="71.30" y1="484.30" x2="78.10" y2="484.30" stroke="#2f4d95" stroke-width="1.0" />
<circle cx="70.70" cy="486.20" r="3.10" fill="none" stroke="#2f4d95" stroke-width="1.0"/>
<circle cx="78.70" cy="492.00" r="3.10" fill="none" stroke="#2f4d95" stroke-width="1.0"/>
<circle cx="74.70" cy="507.90" r="3.10" fill="none" stroke="#2f4d95" stroke-width="1.0"/>
<line x1="97.00" y1="510.00" x2="97.00" y2="517.50" stroke="#5d8a70" stroke-width="1.0" />
<circle cx="93.00" cy="508.60" r="3.00" fill="#2c6847"/>
<circle cx="100.70" cy="511.40" r="3.00" fill="#2c6847"/>
<circle cx="93.80" cy="518.10" r="3.00" fill="#2c6847"/>
<circle cx="97.00" cy="521.00" r="3.00" fill="#2c6847"/>
<circle cx="99.70" cy="521.30" r="3.00" fill="#2c6847"/>
<circle cx="95.50" cy="520.00" r="3.00" fill="#2c6847"/>
<path d="M53.50 469.20V463.60H95.40V469.20" stroke="#262626" stroke-width="1.2" fill="none" />
<circle cx="73.00" cy="459.30" r="0.90" fill="#1a1a1a"/>
<circle cx="76.00" cy="459.30" r="0.90" fill="#1a1a1a"/>
<path d="M53.50 478.70V473.50H74.70V478.70" stroke="#262626" stroke-width="1.2" fill="none" />
<circle cx="59.50" cy="469.20" r="0.90" fill="#1a1a1a"/>
<circle cx="62.50" cy="469.20" r="0.90" fill="#1a1a1a"/>
<circle cx="65.50" cy="469.20" r="0.90" fill="#1a1a1a"/>
<circle cx="68.50" cy="469.20" r="0.90" fill="#1a1a1a"/>
<path d="M76.30 478.70V473.50H94.60V478.70" stroke="#262626" stroke-width="1.2" fill="none" />
<circle cx="82.90" cy="469.20" r="0.90" fill="#1a1a1a"/>
<circle cx="85.90" cy="469.20" r="0.90" fill="#1a1a1a"/>
<circle cx="88.90" cy="469.20" r="0.90" fill="#1a1a1a"/>
<line x1="163.30" y1="454.40" x2="163.30" y2="556.35" stroke="#1c1c1c" stroke-width="1.7" />
<line x1="160.30" y1="555.75" x2="163.30" y2="555.75" stroke="#1c1c1c" stroke-width="0.9" />
<text x="0" y="0" font-size="8.2" text-anchor="end" transform="translate(157.00 558.40) scale(1.0800 1)">0</text>
<line x1="160.30" y1="523.00" x2="163.30" y2="523.00" stroke="#1c1c1c" stroke-width="0.9" />
<text x="0" y="0" font-size="8.2" text-anchor="end" transform="translate(157.00 525.65) scale(1.0800 1)">20</text>
<line x1="160.30" y1="490.40" x2="163.30" y2="490.40" stroke="#1c1c1c" stroke-width="0.9" />
<text x="0" y="0" font-size="8.2" text-anchor="end" transform="translate(157.00 493.05) scale(1.0800 1)">40</text>
<line x1="160.30" y1="457.60" x2="163.30" y2="457.60" stroke="#1c1c1c" stroke-width="0.9" />
<text x="0" y="0" font-size="8.2" text-anchor="end" transform="translate(157.00 460.25) scale(1.0800 1)">60</text>
<text x="0" y="0" font-size="10.6" text-anchor="middle" word-spacing="1.2" style="stroke-width:0.28px" transform="translate(141.00 507.30) rotate(-90) scale(0.6474 1)">Peak time (min)</text>
<line x1="162.50" y1="555.75" x2="238.30" y2="555.75" stroke="#1c1c1c" stroke-width="1.7" />
<rect x="171.40" y="539.70" width="13.40" height="15.45" fill="#d4897c" stroke="#c97668" stroke-width="0.5"/>
<line x1="178.10" y1="555.75" x2="178.10" y2="558.75" stroke="#1c1c1c" stroke-width="0.9" />
<rect x="193.50" y="488.50" width="13.40" height="66.65" fill="#8a96c1" stroke="#7382b5" stroke-width="0.5"/>
<line x1="200.20" y1="555.75" x2="200.20" y2="558.75" stroke="#1c1c1c" stroke-width="0.9" />
<rect x="215.60" y="514.80" width="13.40" height="40.35" fill="#92ab9a" stroke="#80998a" stroke-width="0.5"/>
<line x1="222.30" y1="555.75" x2="222.30" y2="558.75" stroke="#1c1c1c" stroke-width="0.9" />
<text x="0" y="0" font-size="8.4" text-anchor="end" transform="translate(182.90 566.35) rotate(-45)">WT</text>
<text x="205.60" y="565.55" font-size="8.4" text-anchor="end" transform="rotate(-45 205.60 565.55)">FIX<tspan font-size="5.21" dy="-3">null</tspan></text>
<text x="0" y="0" font-size="8.4" text-anchor="end" transform="translate(226.90 567.75) rotate(-45)">2bCoF9R338L</text>
<path d="M178.30 528.90L181.60 532.20L178.30 535.50L175.00 532.20Z" fill="#ab0b34"/>
<path d="M175.40 534.00L178.70 537.30L175.40 540.60L172.10 537.30Z" fill="#ab0b34"/>
<path d="M181.10 533.60L184.40 536.90L181.10 540.20L177.80 536.90Z" fill="#ab0b34"/>
<path d="M177.30 538.30L180.60 541.60L177.30 544.90L174.00 541.60Z" fill="#ab0b34"/>
<path d="M180.10 539.20L183.40 542.50L180.10 545.80L176.80 542.50Z" fill="#ab0b34"/>
<line x1="200.40" y1="474.10" x2="200.40" y2="488.50" stroke="#2f4d95" stroke-width="1.0" />
<line x1="197.00" y1="474.10" x2="203.80" y2="474.10" stroke="#2f4d95" stroke-width="1.0" />
<circle cx="200.40" cy="474.10" r="3.10" fill="none" stroke="#2f4d95" stroke-width="1.0"/>
<circle cx="200.40" cy="487.80" r="3.10" fill="none" stroke="#2f4d95" stroke-width="1.0"/>
<circle cx="200.40" cy="499.80" r="3.10" fill="none" stroke="#2f4d95" stroke-width="1.0"/>
<line x1="222.00" y1="507.00" x2="222.00" y2="514.80" stroke="#4d7c62" stroke-width="1.0" />
<circle cx="218.20" cy="504.60" r="3.00" fill="#2c6847"/>
<circle cx="226.10" cy="508.40" r="3.00" fill="#2c6847"/>
<circle cx="219.50" cy="515.30" r="3.00" fill="#2c6847"/>
<circle cx="222.90" cy="519.60" r="3.00" fill="#2c6847"/>
<circle cx="225.50" cy="518.50" r="3.00" fill="#2c6847"/>
<circle cx="221.40" cy="521.00" r="3.00" fill="#2c6847"/>
<path d="M178.60 458.10V452.90H220.80V458.10" stroke="#262626" stroke-width="1.2" fill="none" />
<circle cx="198.30" cy="447.80" r="0.90" fill="#1a1a1a"/>
<circle cx="201.30" cy="447.80" r="0.90" fill="#1a1a1a"/>
<path d="M178.60 467.90V462.30H199.30V467.90" stroke="#262626" stroke-width="1.2" fill="none" />
<circle cx="184.60" cy="458.50" r="0.90" fill="#1a1a1a"/>
<circle cx="187.60" cy="458.50" r="0.90" fill="#1a1a1a"/>
<circle cx="190.60" cy="458.50" r="0.90" fill="#1a1a1a"/>
<circle cx="193.60" cy="458.50" r="0.90" fill="#1a1a1a"/>
<path d="M201.70 467.90V462.30H220.80V467.90" stroke="#262626" stroke-width="1.2" fill="none" />
<circle cx="209.60" cy="458.50" r="0.90" fill="#1a1a1a"/>
<circle cx="212.60" cy="458.50" r="0.90" fill="#1a1a1a"/>
<line x1="286.00" y1="454.40" x2="286.00" y2="556.35" stroke="#1c1c1c" stroke-width="1.7" />
<line x1="283.00" y1="555.75" x2="286.00" y2="555.75" stroke="#1c1c1c" stroke-width="0.9" />
<text x="0" y="0" font-size="8.2" text-anchor="end" transform="translate(279.70 558.40) scale(1.0800 1)">0</text>
<line x1="283.00" y1="535.90" x2="286.00" y2="535.90" stroke="#1c1c1c" stroke-width="0.9" />
<text x="0" y="0" font-size="8.2" text-anchor="end" transform="translate(279.70 538.55) scale(1.0800 1)">50</text>
<line x1="283.00" y1="516.10" x2="286.00" y2="516.10" stroke="#1c1c1c" stroke-width="0.9" />
<text x="0" y="0" font-size="8.2" text-anchor="end" transform="translate(279.70 518.75) scale(1.0800 1)">100</text>
<line x1="283.00" y1="496.60" x2="286.00" y2="496.60" stroke="#1c1c1c" stroke-width="0.9" />
<text x="0" y="0" font-size="8.2" text-anchor="end" transform="translate(279.70 499.25) scale(1.0800 1)">150</text>
<line x1="283.00" y1="476.90" x2="286.00" y2="476.90" stroke="#1c1c1c" stroke-width="0.9" />
<text x="0" y="0" font-size="8.2" text-anchor="end" transform="translate(279.70 479.55) scale(1.0800 1)">200</text>
<line x1="283.00" y1="457.60" x2="286.00" y2="457.60" stroke="#1c1c1c" stroke-width="0.9" />
<text x="0" y="0" font-size="8.2" text-anchor="end" transform="translate(279.70 460.25) scale(1.0800 1)">250</text>
<text x="0" y="0" font-size="10.6" text-anchor="middle" word-spacing="1.2" style="stroke-width:0.28px" transform="translate(258.30 505.90) rotate(-90) scale(0.6682 1)">Peak thrombin (nM)</text>
<line x1="285.20" y1="555.75" x2="361.00" y2="555.75" stroke="#1c1c1c" stroke-width="1.7" />
<rect x="294.10" y="500.10" width="13.40" height="55.05" fill="#d4897c" stroke="#c97668" stroke-width="0.5"/>
<line x1="300.80" y1="555.75" x2="300.80" y2="558.75" stroke="#1c1c1c" stroke-width="0.9" />
<rect x="316.20" y="550.30" width="13.40" height="4.85" fill="#8a96c1" stroke="#7382b5" stroke-width="0.5"/>
<line x1="322.90" y1="555.75" x2="322.90" y2="558.75" stroke="#1c1c1c" stroke-width="0.9" />
<rect x="338.30" y="530.80" width="13.40" height="24.35" fill="#92ab9a" stroke="#80998a" stroke-width="0.5"/>
<line x1="345.00" y1="555.75" x2="345.00" y2="558.75" stroke="#1c1c1c" stroke-width="0.9" />
<text x="0" y="0" font-size="8.4" text-anchor="end" transform="translate(305.60 566.35) rotate(-45)">WT</text>
<text x="328.30" y="565.55" font-size="8.4" text-anchor="end" transform="rotate(-45 328.30 565.55)">FIX<tspan font-size="5.21" dy="-3">null</tspan></text>
<text x="0" y="0" font-size="8.4" text-anchor="end" transform="translate(349.60 567.75) rotate(-45)">2bCoF9R338L</text>
<line x1="300.70" y1="480.60" x2="300.70" y2="500.10" stroke="#c0304a" stroke-width="1.0" />
<line x1="297.40" y1="480.60" x2="304.00" y2="480.60" stroke="#c0304a" stroke-width="1.0" />
<path d="M300.70 468.30L304.00 471.60L300.70 474.90L297.40 471.60Z" fill="#ab0b34"/>
<path d="M300.70 501.10L304.00 504.40L300.70 507.70L297.40 504.40Z" fill="#ab0b34"/>
<path d="M304.10 503.10L307.40 506.40L304.10 509.70L300.80 506.40Z" fill="#ab0b34"/>
<path d="M297.40 510.90L300.70 514.20L297.40 517.50L294.10 514.20Z" fill="#ab0b34"/>
<circle cx="319.70" cy="548.20" r="3.10" fill="none" stroke="#2f4d95" stroke-width="1.0"/>
<circle cx="322.80" cy="549.70" r="3.10" fill="none" stroke="#2f4d95" stroke-width="1.0"/>
<circle cx="326.10" cy="550.00" r="3.10" fill="none" stroke="#2f4d95" stroke-width="1.0"/>
<circle cx="324.80" cy="549.20" r="3.10" fill="none" stroke="#2f4d95" stroke-width="1.0"/>
<line x1="345.10" y1="517.70" x2="345.10" y2="530.80" stroke="#4d7c62" stroke-width="1.0" />
<line x1="341.70" y1="517.70" x2="348.50" y2="517.70" stroke="#4d7c62" stroke-width="1.0" />
<circle cx="341.70" cy="520.10" r="3.00" fill="#2c6847"/>
<circle cx="346.20" cy="519.10" r="3.00" fill="#2c6847"/>
<circle cx="343.70" cy="522.40" r="3.00" fill="#2c6847"/>
<circle cx="347.60" cy="521.60" r="3.00" fill="#2c6847"/>
<circle cx="345.10" cy="534.70" r="3.00" fill="#2c6847"/>
<circle cx="345.10" cy="551.30" r="3.00" fill="#2c6847"/>
<path d="M301.30 455.20V449.20H343.30V455.20" stroke="#262626" stroke-width="1.2" fill="none" />
<circle cx="322.60" cy="445.50" r="0.90" fill="#1a1a1a"/>
<path d="M301.30 465.40V459.50H322.20V465.40" stroke="#262626" stroke-width="1.2" fill="none" />
<circle cx="310.40" cy="455.60" r="0.90" fill="#1a1a1a"/>
<circle cx="313.40" cy="455.60" r="0.90" fill="#1a1a1a"/>
<path d="M325.50 512.60V507.40H343.70V512.60" stroke="#262626" stroke-width="1.2" fill="none" />
<circle cx="334.50" cy="502.90" r="0.90" fill="#1a1a1a"/>
<line x1="413.50" y1="454.80" x2="413.50" y2="556.35" stroke="#1c1c1c" stroke-width="1.7" />
<line x1="410.50" y1="555.75" x2="413.50" y2="555.75" stroke="#1c1c1c" stroke-width="0.9" />
<text x="0" y="0" font-size="8.2" text-anchor="end" transform="translate(407.20 558.40) scale(1.0800 1)">0</text>
<line x1="410.50" y1="531.10" x2="413.50" y2="531.10" stroke="#1c1c1c" stroke-width="0.9" />
<text x="0" y="0" font-size="8.2" text-anchor="end" transform="translate(407.20 533.75) scale(1.0800 1)">500</text>
<line x1="410.50" y1="506.30" x2="413.50" y2="506.30" stroke="#1c1c1c" stroke-width="0.9" />
<text x="0" y="0" font-size="8.2" text-anchor="end" transform="translate(407.20 508.95) scale(1.0800 1)">1000</text>
<line x1="410.50" y1="481.70" x2="413.50" y2="481.70" stroke="#1c1c1c" stroke-width="0.9" />
<text x="0" y="0" font-size="8.2" text-anchor="end" transform="translate(407.20 484.35) scale(1.0800 1)">1500</text>
<line x1="410.50" y1="457.30" x2="413.50" y2="457.30" stroke="#1c1c1c" stroke-width="0.9" />
<text x="0" y="0" font-size="8.2" text-anchor="end" transform="translate(407.20 459.95) scale(1.0800 1)">2000</text>
<text x="0" y="0" font-size="10.6" text-anchor="middle" word-spacing="1.2" style="stroke-width:0.28px" transform="translate(382.20 503.30) rotate(-90) scale(0.6312 1)">Endogenous thrombin potential (nM)</text>
<line x1="412.70" y1="555.75" x2="488.50" y2="555.75" stroke="#1c1c1c" stroke-width="1.7" />
<rect x="421.60" y="499.00" width="13.40" height="56.15" fill="#d4897c" stroke="#c97668" stroke-width="0.5"/>
<line x1="428.30" y1="555.75" x2="428.30" y2="558.75" stroke="#1c1c1c" stroke-width="0.9" />
<rect x="443.70" y="545.10" width="13.40" height="10.05" fill="#8a96c1" stroke="#7382b5" stroke-width="0.5"/>
<line x1="450.40" y1="555.75" x2="450.40" y2="558.75" stroke="#1c1c1c" stroke-width="0.9" />
<rect x="465.80" y="515.20" width="13.40" height="39.95" fill="#92ab9a" stroke="#80998a" stroke-width="0.5"/>
<line x1="472.50" y1="555.75" x2="472.50" y2="558.75" stroke="#1c1c1c" stroke-width="0.9" />
<text x="0" y="0" font-size="8.4" text-anchor="end" transform="translate(433.10 566.35) rotate(-45)">WT</text>
<text x="455.80" y="565.55" font-size="8.4" text-anchor="end" transform="rotate(-45 455.80 565.55)">FIX<tspan font-size="5.21" dy="-3">null</tspan></text>
<text x="0" y="0" font-size="8.4" text-anchor="end" transform="translate(477.10 567.75) rotate(-45)">2bCoF9R338L</text>
<line x1="428.10" y1="483.40" x2="428.10" y2="499.00" stroke="#c0304a" stroke-width="1.0" />
<line x1="425.20" y1="483.40" x2="431.00" y2="483.40" stroke="#c0304a" stroke-width="1.0" />
<path d="M428.10 476.10L431.40 479.40L428.10 482.70L424.80 479.40Z" fill="#ab0b34"/>
<path d="M428.10 489.40L431.40 492.70L428.10 496.00L424.80 492.70Z" fill="#ab0b34"/>
<path d="M424.80 507.00L428.10 510.30L424.80 513.60L421.50 510.30Z" fill="#ab0b34"/>
<path d="M432.00 507.00L435.30 510.30L432.00 513.60L428.70 510.30Z" fill="#ab0b34"/>
<line x1="450.80" y1="536.70" x2="450.80" y2="545.10" stroke="#2f4d95" stroke-width="1.0" />
<line x1="447.60" y1="536.70" x2="454.00" y2="536.70" stroke="#2f4d95" stroke-width="1.0" />
<circle cx="450.80" cy="536.70" r="3.10" fill="none" stroke="#2f4d95" stroke-width="1.0"/>
<circle cx="454.70" cy="545.10" r="3.10" fill="none" stroke="#2f4d95" stroke-width="1.0"/>
<circle cx="446.90" cy="549.70" r="3.10" fill="none" stroke="#2f4d95" stroke-width="1.0"/>
<line x1="472.60" y1="493.30" x2="472.60" y2="515.20" stroke="#4d7c62" stroke-width="1.0" />
<line x1="469.60" y1="493.30" x2="475.60" y2="493.30" stroke="#4d7c62" stroke-width="1.0" />
<circle cx="469.10" cy="499.00" r="3.00" fill="#2c6847"/>
<circle cx="476.10" cy="502.50" r="3.00" fill="#2c6847"/>
<circle cx="472.60" cy="503.50" r="3.00" fill="#2c6847"/>
<circle cx="472.60" cy="516.50" r="3.00" fill="#2c6847"/>
<circle cx="472.60" cy="549.90" r="3.00" fill="#2c6847"/>
<path d="M429.10 461.90V456.60H471.10V461.90" stroke="#262626" stroke-width="1.2" fill="none" />
<text x="0" y="0" font-size="7.2" text-anchor="middle" transform="translate(450.20 450.20)">n.s.</text>
<path d="M429.10 471.60V466.40H450.20V471.60" stroke="#262626" stroke-width="1.2" fill="none" />
<circle cx="437.90" cy="461.90" r="0.90" fill="#1a1a1a"/>
<circle cx="440.90" cy="461.90" r="0.90" fill="#1a1a1a"/>
<path d="M454.70 489.80V484.90H473.60V489.80" stroke="#262626" stroke-width="1.2" fill="none" />
<circle cx="464.40" cy="480.60" r="0.90" fill="#1a1a1a"/>
</svg></body></html>
